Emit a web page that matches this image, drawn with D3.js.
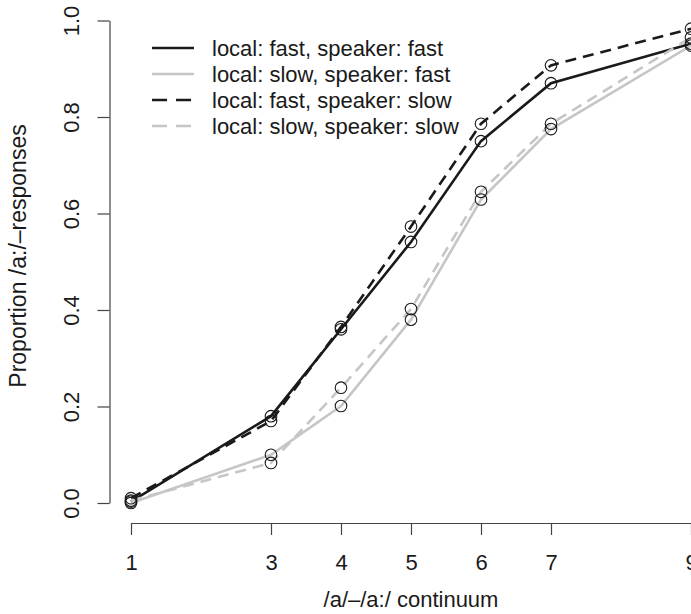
<!DOCTYPE html>
<html>
<head>
<meta charset="utf-8">
<script src="https://cdnjs.cloudflare.com/ajax/libs/d3/7.8.5/d3.min.js"></script>
<style>
  body { margin: 0; background: #fff; }
  text { font-family: "Liberation Sans", Arial, sans-serif; fill: #1a1a1a; }
</style>
</head>
<body>
<div id="chart"></div>
<script>
// continuum steps
var steps = [1, 3, 4, 5, 6, 7, 9];
// proportion of /a:/ responses per condition
var fastFast = [0.003, 0.18, 0.36, 0.541, 0.75, 0.87, 0.952];
var slowFast = [0.0, 0.10, 0.201, 0.38, 0.629, 0.775, 0.948];
var fastSlow = [0.01, 0.17, 0.365, 0.573, 0.786, 0.907, 0.983];
var slowSlow = [0.005, 0.083, 0.239, 0.402, 0.645, 0.786, 0.965];
var yTicks = [0, 0.2, 0.4, 0.6, 0.8, 1.0];
var seriesNames = ["local: fast, speaker: fast", "local: slow, speaker: fast", "local: fast, speaker: slow", "local: slow, speaker: slow"];

var series = [
  { name: seriesNames[0], values: fastFast, color: "#1a1a1a", dash: null },
  { name: seriesNames[1], values: slowFast, color: "#c6c6c6", dash: null },
  { name: seriesNames[2], values: fastSlow, color: "#1a1a1a", dash: "11,7" },
  { name: seriesNames[3], values: slowSlow, color: "#c6c6c6", dash: "11,7" }
];

var W = 691, H = 614;
var svg = d3.select("#chart").append("svg").attr("width", W).attr("height", H);

//scales: R style 4% padding, axes start at the data range
var x = d3.scaleLinear().domain([1, 9]).range([131, 691]);
var y = d3.scaleLinear().domain([0, 1]).range([503, 20.5]);

//x axis
var xAxis = d3.axisBottom(x).tickValues(steps).tickFormat(d3.format("d")).tickSize(12).tickSizeOuter(0).tickPadding(19);
var xg = svg.append("g").attr("transform", "translate(0,523)").call(xAxis);
xg.selectAll("text").style("font-size", "22px").attr("fill", "#1a1a1a");
xg.selectAll("path, line").attr("stroke", "#444").attr("stroke-width", 1.2);

//y axis
var yAxis = d3.axisLeft(y).tickValues(yTicks).tickFormat(d3.format(".1f")).tickSize(12).tickSizeOuter(0);
var yg = svg.append("g").attr("transform", "translate(109.5,0)").call(yAxis);
yg.selectAll("path, line").attr("stroke", "#444").attr("stroke-width", 1.2);
yg.selectAll("text").style("font-size", "22px").attr("fill", "#1a1a1a")
  .attr("x", null).attr("dy", null).attr("y", null)
  .attr("text-anchor", "middle")
  .attr("transform", "translate(-31,0) rotate(-90)");

//axis titles
svg.append("text").attr("x", 411).attr("y", 607).attr("text-anchor", "middle").style("font-size", "22px").text("/a/\u2013/a:/ continuum");
svg.append("text").attr("transform", "translate(26,256) rotate(-90)").attr("text-anchor", "middle").style("font-size", "23px").text("Proportion /a:/\u2013responses");

//lines
var line = d3.line().x(function (d, i) { return x(steps[i]); }).y(function (d) { return y(d); });
svg.selectAll(".series").data(series).enter().append("path")
  .attr("class", "series")
  .attr("d", function (d) { return line(d.values); })
  .attr("fill", "none")
  .attr("stroke", function (d) { return d.color; })
  .attr("stroke-width", 2.6)
  .attr("stroke-dasharray", function (d) { return d.dash; });

//open circles on top of every line
series.forEach(function (s) {
  svg.selectAll(null).data(s.values).enter().append("circle")
    .attr("cx", function (d, i) { return x(steps[i]); })
    .attr("cy", function (d) { return y(d); })
    .attr("r", 5.8)
    .attr("fill", "none")
    .attr("stroke", "#1a1a1a")
    .attr("stroke-width", 1.1);
});

//legend
var legend = svg.selectAll(".legend").data(series).enter().append("g")
  .attr("class", "legend")
  .attr("transform", function (d, i) { return "translate(0," + (48 + i * 26) + ")"; });
legend.append("line").attr("x1", 152).attr("x2", 194).attr("y1", 0).attr("y2", 0)
  .attr("stroke", function (d) { return d.color; })
  .attr("stroke-width", 2.6)
  .attr("stroke-dasharray", function (d) { return d.dash ? "15,9" : null; });
legend.append("text").attr("x", 212).attr("y", 0).attr("dy", "0.35em").style("font-size", "22px")
  .text(function (d) { return d.name; });
</script>
</body>
</html>
